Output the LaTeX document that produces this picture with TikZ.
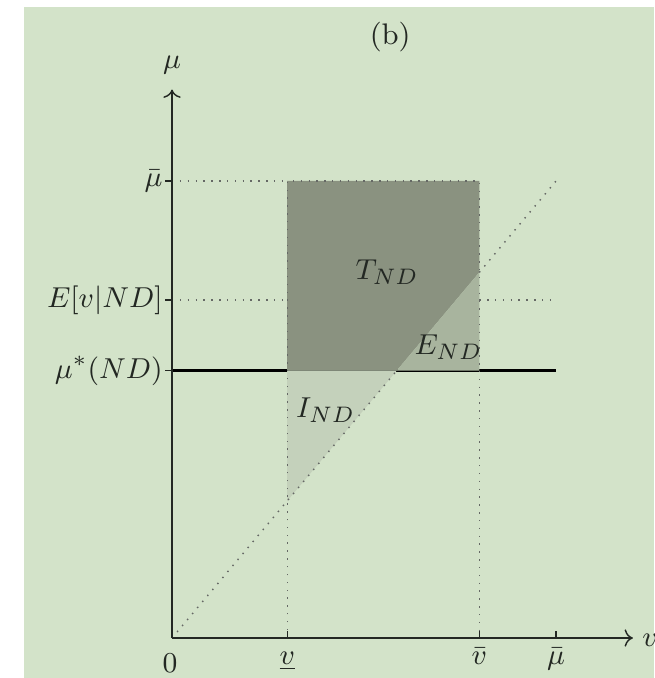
\documentclass[tikz,border=0pt]{standalone}
\usetikzlibrary{arrows.meta, positioning}
\usepackage{amsmath}
\usepackage{xcolor}
\definecolor{bggreen}{RGB}{211,227,201}
\definecolor{tgray}{RGB}{138,146,128}
\definecolor{egray}{RGB}{168,180,158}
\definecolor{igray}{RGB}{196,209,187}
\definecolor{inkdark}{RGB}{35,40,35}

\begin{document}
\begin{tikzpicture}[
    x=12pt, y=14.28pt,
    every node/.style={font=\fontsize{9.3}{11}\selectfont},
    axis/.style={->, draw=inkdark, line width=0.45pt},
    guide/.style={dotted, draw=inkdark!70, line width=0.45pt},
    tick/.style={draw=inkdark, line width=0.45pt},
    eqline/.style={draw=black, line width=1.1pt},
    ylab/.style={anchor=east, inner sep=0.6pt, text=inkdark},
    xlab/.style={anchor=base, inner sep=0pt, text=inkdark},
    region/.style={text=inkdark}
]

%% ── Frame ──
\useasboundingbox[fill=white] (-4.479,-0.875) rectangle (12.552,13.96);
\fill[bggreen] (-3.854,-0.875) rectangle (12.552,13.807);

%% ── Key points ──
\coordinate (O)    at (0,0);
\coordinate (vlo)  at (3,0);
\coordinate (vhi)  at (8,0);
\coordinate (mbar) at (10,0);
\coordinate (ystar) at (0,5.85);
\coordinate (yexp) at (0,7.4);
\coordinate (ytop) at (0,10);

%% ── Equilibrium line ──
\draw[eqline] (ystar) -- (10,5.85);

%% ── Shaded regions ──
\fill[tgray] (3,5.85) -- (3,10) -- (8,10) -- (8,8) -- (5.85,5.85) -- cycle;
\fill[egray] (5.85,5.85) -- (8,8) -- (8,5.85) -- cycle;
\fill[igray] (3,3) -- (3,5.85) -- (5.85,5.85) -- cycle;

%% ── Guides ──
\draw[guide] (O) -- (5.85,5.85);
\draw[guide] (8,8) -- (10,10);
\draw[guide] (ytop) -- (3,10);
\draw[guide] (yexp) -- (3,7.4);
\draw[guide] (8,7.4) -- (10,7.4);
\draw[guide] (vlo) -- (3,10) -- (8,10) -- (vhi);

%% ── Axes ──
\draw[axis] (O) -- (12,0);
\draw[axis] (O) -- (0,12);
\foreach \p in {vlo,vhi,mbar}
    \draw[tick] (\p) -- ++(0,0.15);
\foreach \p in {ytop,yexp,ystar}
    \draw[tick] (\p) -- ++(-0.18,0);

%% ── Labels ──
\node[text=inkdark] (title) at (5.68,13.15) {(b)};
\node[text=inkdark] (mu)    at (0,12.54) {$\mu$};
\node[text=inkdark] (v)     at (12.45,-0.04) {$v$};
\node[xlab] (zero)  at (-0.05,-0.75) {$0$};
\node[xlab] (lvlo)  at (3,-0.58) {$\underline{v}$};
\node[xlab] (lvhi)  at (8,-0.58) {$\bar{v}$};
\node[xlab] (lmbar) at (10,-0.58) {$\bar{\mu}$};
\node[ylab] (lytop)  at (-0.18,10) {$\bar{\mu}$};
\node[ylab] (lyexp)  at (-0.18,7.4) {$E[v|ND]$};
\node[ylab] (lystar) at (-0.18,5.85) {$\mu^{*}(ND)$};
\node[region] (T) at (5.6,8.01) {$T_{ND}$};
\node[region] (E) at (7.2,6.37) {$E_{ND}$};
\node[region] (I) at (4.0,4.99) {$I_{ND}$};

\end{tikzpicture}
\end{document}
